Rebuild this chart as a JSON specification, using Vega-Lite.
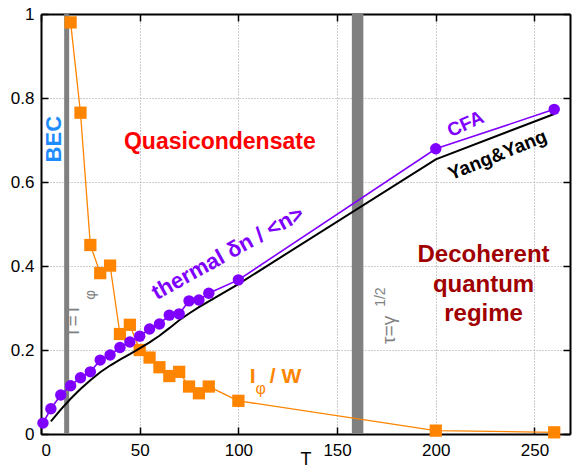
{
  "$schema": "https://vega.github.io/schema/vega-lite/v6.json",
  "width": 529,
  "height": 420,
  "autosize": {"type": "none"},
  "padding": {"left": 41, "top": 14, "right": 2, "bottom": 35},
  "config": {
    "view": {"stroke": null},
    "font": "Liberation Sans",
    "axis": {
      "domainColor": "black",
      "domainWidth": 2,
      "tickColor": "black",
      "tickWidth": 1.5,
      "tickSize": -7,
      "labelFont": "Liberation Sans",
      "labelFontSize": 17,
      "labelColor": "black",
      "titleFont": "Liberation Sans",
      "titleFontSize": 18,
      "titleFontWeight": "normal",
      "titleColor": "black",
      "gridColor": "#9a9a9a",
      "gridDash": [1, 2],
      "gridWidth": 1
    }
  },
  "datasets": {
    "cfa": [
      {"T": 1, "v": 0.026}, {"T": 5, "v": 0.06}, {"T": 10, "v": 0.093}, {"T": 15, "v": 0.115},
      {"T": 20, "v": 0.134}, {"T": 25, "v": 0.148}, {"T": 30, "v": 0.176}, {"T": 35, "v": 0.188},
      {"T": 40, "v": 0.206}, {"T": 45, "v": 0.219}, {"T": 50, "v": 0.233}, {"T": 55, "v": 0.25},
      {"T": 60, "v": 0.262}, {"T": 65, "v": 0.283}, {"T": 70, "v": 0.286}, {"T": 75, "v": 0.317},
      {"T": 80, "v": 0.319}, {"T": 85, "v": 0.335}, {"T": 100, "v": 0.367}, {"T": 200, "v": 0.679},
      {"T": 260, "v": 0.773}
    ],
    "yangyang": [
      {"T": 5, "v": 0.03}, {"T": 10, "v": 0.058}, {"T": 15, "v": 0.084}, {"T": 20, "v": 0.107},
      {"T": 25, "v": 0.128}, {"T": 30, "v": 0.147}, {"T": 35, "v": 0.163}, {"T": 40, "v": 0.177},
      {"T": 45, "v": 0.19}, {"T": 50, "v": 0.204}, {"T": 55, "v": 0.218}, {"T": 60, "v": 0.234},
      {"T": 65, "v": 0.252}, {"T": 70, "v": 0.271}, {"T": 75, "v": 0.287}, {"T": 80, "v": 0.302},
      {"T": 85, "v": 0.316}, {"T": 100, "v": 0.357}, {"T": 200, "v": 0.654}, {"T": 260, "v": 0.762}
    ],
    "lphi": [
      {"T": 15, "v": 0.98}, {"T": 20, "v": 0.765}, {"T": 25, "v": 0.45}, {"T": 30, "v": 0.383},
      {"T": 35, "v": 0.401}, {"T": 40, "v": 0.238}, {"T": 45, "v": 0.26}, {"T": 50, "v": 0.2},
      {"T": 55, "v": 0.182}, {"T": 60, "v": 0.159}, {"T": 65, "v": 0.138}, {"T": 70, "v": 0.148},
      {"T": 75, "v": 0.113}, {"T": 80, "v": 0.097}, {"T": 85, "v": 0.113}, {"T": 100, "v": 0.079},
      {"T": 200, "v": 0.008}, {"T": 260, "v": 0.004}
    ]
  },
  "layer": [
    {
      "data": {"values": [{"T": 13}]},
      "mark": {"type": "rule", "color": "#808080", "strokeWidth": 5},
      "encoding": {
        "x": {
          "field": "T", "type": "quantitative",
          "scale": {"domain": [0, 268], "nice": false, "zero": false},
          "axis": {"orient": "bottom", "title": "T", "values": [0, 50, 100, 150, 200, 250], "grid": true,
            "labelPadding": 15, "titleY": 30, "titleBaseline": "alphabetic"}
        }
      }
    },
    {
      "data": {"values": [{"T": 160.4}]},
      "mark": {"type": "rule", "color": "#808080", "strokeWidth": 11.5},
      "encoding": {
        "x": {"field": "T", "type": "quantitative", "scale": {"domain": [0, 268], "nice": false, "zero": false}, "axis": null}
      }
    },
    {
      "data": {"name": "lphi"},
      "mark": {"type": "line", "color": "#ff8400", "strokeWidth": 1.3,
        "point": {"shape": "square", "size": 150, "filled": true, "color": "#ff8400", "opacity": 1}},
      "encoding": {
        "x": {"field": "T", "type": "quantitative", "scale": {"domain": [0, 268], "nice": false, "zero": false}, "axis": null},
        "y": {
          "field": "v", "type": "quantitative",
          "scale": {"domain": [0, 1], "nice": false, "zero": false},
          "axis": {"orient": "left", "title": null, "values": [0, 0.2, 0.4, 0.6, 0.8, 1], "format": "~g", "grid": true, "labelPadding": 14}
        }
      }
    },
    {
      "data": {"name": "yangyang"},
      "mark": {"type": "line", "color": "black", "strokeWidth": 2},
      "encoding": {
        "x": {
          "field": "T", "type": "quantitative",
          "scale": {"domain": [0, 268], "nice": false, "zero": false},
          "axis": {"orient": "top", "title": null, "labels": false, "grid": false, "values": [0, 50, 100, 150, 200, 250]}
        },
        "y": {
          "field": "v", "type": "quantitative",
          "scale": {"domain": [0, 1], "nice": false, "zero": false},
          "axis": {"orient": "right", "title": null, "labels": false, "grid": false, "values": [0, 0.2, 0.4, 0.6, 0.8, 1]}
        }
      }
    },
    {
      "data": {"name": "cfa"},
      "mark": {"type": "line", "color": "#8000ff", "strokeWidth": 1.6,
        "point": {"shape": "circle", "size": 130, "filled": true, "color": "#8000ff", "opacity": 1}},
      "encoding": {
        "x": {"field": "T", "type": "quantitative", "scale": {"domain": [0, 268], "nice": false, "zero": false}, "axis": null},
        "y": {"field": "v", "type": "quantitative", "scale": {"domain": [0, 1], "nice": false, "zero": false}, "axis": null}
      }
    },
    {
      "data": {"values": [{"T": 6.6, "v": 0.702, "label": "BEC"}]},
      "mark": {"type": "text", "angle": -90, "fontSize": 22, "fontWeight": "bold", "color": "#1e8cff", "align": "center", "baseline": "middle"},
      "encoding": {
        "x": {"field": "T", "type": "quantitative", "scale": {"domain": [0, 268], "nice": false, "zero": false}, "axis": null},
        "y": {"field": "v", "type": "quantitative", "scale": {"domain": [0, 1], "nice": false, "zero": false}, "axis": null},
        "text": {"field": "label"}
      }
    },
    {
      "data": {"values": [{"T": 90.6, "v": 0.695, "label": "Quasicondensate"}]},
      "mark": {"type": "text", "fontSize": 23, "fontWeight": "bold", "color": "#ff0000", "align": "center", "baseline": "middle"},
      "encoding": {
        "x": {"field": "T", "type": "quantitative", "scale": {"domain": [0, 268], "nice": false, "zero": false}, "axis": null},
        "y": {"field": "v", "type": "quantitative", "scale": {"domain": [0, 1], "nice": false, "zero": false}, "axis": null},
        "text": {"field": "label"}
      }
    },
    {
      "data": {"values": [{"T": 94.6, "v": 0.431, "label": "thermal δn / <n>"}]},
      "mark": {"type": "text", "angle": -29, "fontSize": 22, "fontWeight": "bold", "color": "#8000ff", "align": "center", "baseline": "middle"},
      "encoding": {
        "x": {"field": "T", "type": "quantitative", "scale": {"domain": [0, 268], "nice": false, "zero": false}, "axis": null},
        "y": {"field": "v", "type": "quantitative", "scale": {"domain": [0, 1], "nice": false, "zero": false}, "axis": null},
        "text": {"field": "label"}
      }
    },
    {
      "data": {"values": [{"T": 16.2, "v": 0.269, "label": "T=T"}]},
      "mark": {"type": "text", "angle": -90, "fontSize": 19, "color": "#808080", "align": "center", "baseline": "middle"},
      "encoding": {
        "x": {"field": "T", "type": "quantitative", "scale": {"domain": [0, 268], "nice": false, "zero": false}, "axis": null},
        "y": {"field": "v", "type": "quantitative", "scale": {"domain": [0, 1], "nice": false, "zero": false}, "axis": null},
        "text": {"field": "label"}
      }
    },
    {
      "data": {"values": [{"T": 24.8, "v": 0.331, "label": "φ"}]},
      "mark": {"type": "text", "angle": -90, "fontSize": 15, "color": "#808080", "align": "center", "baseline": "middle"},
      "encoding": {
        "x": {"field": "T", "type": "quantitative", "scale": {"domain": [0, 268], "nice": false, "zero": false}, "axis": null},
        "y": {"field": "v", "type": "quantitative", "scale": {"domain": [0, 1], "nice": false, "zero": false}, "axis": null},
        "text": {"field": "label"}
      }
    },
    {
      "data": {"values": [{"T": 176.1, "v": 0.248, "label": "τ=γ"}]},
      "mark": {"type": "text", "angle": -90, "fontSize": 19, "color": "#808080", "align": "center", "baseline": "middle"},
      "encoding": {
        "x": {"field": "T", "type": "quantitative", "scale": {"domain": [0, 268], "nice": false, "zero": false}, "axis": null},
        "y": {"field": "v", "type": "quantitative", "scale": {"domain": [0, 1], "nice": false, "zero": false}, "axis": null},
        "text": {"field": "label"}
      }
    },
    {
      "data": {"values": [{"T": 172.2, "v": 0.326, "label": "1/2"}]},
      "mark": {"type": "text", "angle": -90, "fontSize": 14, "color": "#808080", "align": "center", "baseline": "middle"},
      "encoding": {
        "x": {"field": "T", "type": "quantitative", "scale": {"domain": [0, 268], "nice": false, "zero": false}, "axis": null},
        "y": {"field": "v", "type": "quantitative", "scale": {"domain": [0, 1], "nice": false, "zero": false}, "axis": null},
        "text": {"field": "label"}
      }
    },
    {
      "data": {"values": [{"T": 215.1, "v": 0.738, "label": "CFA"}]},
      "mark": {"type": "text", "angle": -24, "fontSize": 19, "fontWeight": "bold", "color": "#8000ff", "align": "center", "baseline": "middle"},
      "encoding": {
        "x": {"field": "T", "type": "quantitative", "scale": {"domain": [0, 268], "nice": false, "zero": false}, "axis": null},
        "y": {"field": "v", "type": "quantitative", "scale": {"domain": [0, 1], "nice": false, "zero": false}, "axis": null},
        "text": {"field": "label"}
      }
    },
    {
      "data": {"values": [{"T": 231.3, "v": 0.664, "label": "Yang&Yang"}]},
      "mark": {"type": "text", "angle": -22, "fontSize": 19, "fontWeight": "bold", "color": "black", "align": "center", "baseline": "middle"},
      "encoding": {
        "x": {"field": "T", "type": "quantitative", "scale": {"domain": [0, 268], "nice": false, "zero": false}, "axis": null},
        "y": {"field": "v", "type": "quantitative", "scale": {"domain": [0, 1], "nice": false, "zero": false}, "axis": null},
        "text": {"field": "label"}
      }
    },
    {
      "data": {"values": [{"T": 224.2, "v": 0.426, "label": "Decoherent\nquantum\nregime"}]},
      "mark": {"type": "text", "lineBreak": "\n", "lineHeight": 29.5, "fontSize": 24, "fontWeight": "bold", "color": "#a00000", "align": "center", "baseline": "middle"},
      "encoding": {
        "x": {"field": "T", "type": "quantitative", "scale": {"domain": [0, 268], "nice": false, "zero": false}, "axis": null},
        "y": {"field": "v", "type": "quantitative", "scale": {"domain": [0, 1], "nice": false, "zero": false}, "axis": null},
        "text": {"field": "label"}
      }
    },
    {
      "data": {"values": [{"T": 105.8, "v": 0.1214, "label": "I"}, {"T": 115.9, "v": 0.1214, "label": "/ W"}]},
      "mark": {"type": "text", "fontSize": 21, "fontWeight": "bold", "color": "#ff8400", "align": "left", "baseline": "alphabetic"},
      "encoding": {
        "x": {"field": "T", "type": "quantitative", "scale": {"domain": [0, 268], "nice": false, "zero": false}, "axis": null},
        "y": {"field": "v", "type": "quantitative", "scale": {"domain": [0, 1], "nice": false, "zero": false}, "axis": null},
        "text": {"field": "label"}
      }
    },
    {
      "data": {"values": [{"T": 111.3, "v": 0.107, "label": "φ"}]},
      "mark": {"type": "text", "fontSize": 16, "color": "#ff8400", "align": "center", "baseline": "middle"},
      "encoding": {
        "x": {"field": "T", "type": "quantitative", "scale": {"domain": [0, 268], "nice": false, "zero": false}, "axis": null},
        "y": {"field": "v", "type": "quantitative", "scale": {"domain": [0, 1], "nice": false, "zero": false}, "axis": null},
        "text": {"field": "label"}
      }
    }
  ],
  "resolve": {"axis": {"x": "independent", "y": "independent"}}
}
